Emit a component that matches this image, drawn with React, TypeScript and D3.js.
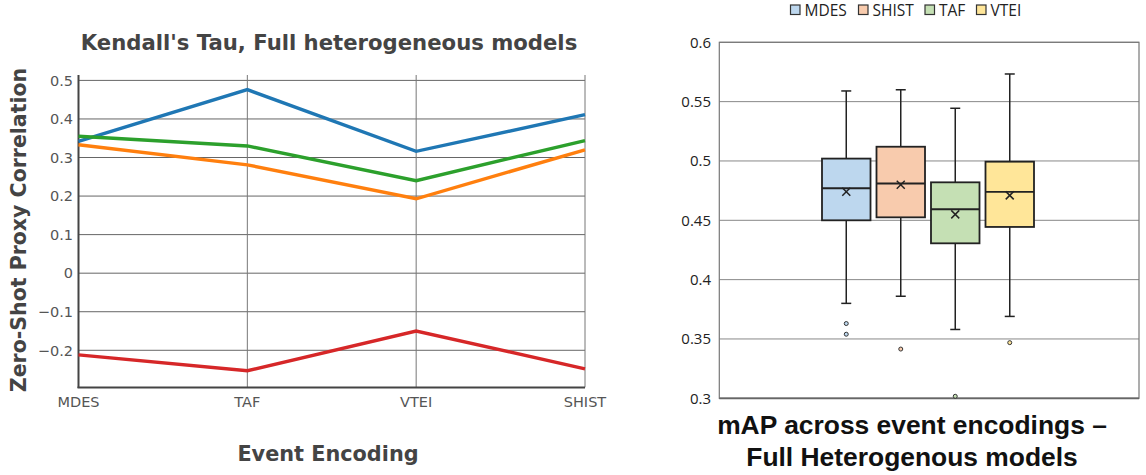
import React from 'react';
import * as d3 from 'd3';

// Left chart: Kendall's Tau per event encoding
const encodings = ['MDES', 'TAF', 'VTEI', 'SHIST'];
const blueSeries = [0.342, 0.476, 0.316, 0.411];
const orangeSeries = [0.333, 0.281, 0.193, 0.320];
const greenSeries = [0.355, 0.330, 0.240, 0.344];
const redSeries = [-0.212, -0.253, -0.150, -0.248];
const tauTicks = [0.5, 0.4, 0.3, 0.2, 0.1, 0, -0.1, -0.2];

// Right chart: mAP box plots
const boxNames = ['MDES', 'SHIST', 'TAF', 'VTEI'];
const boxFills = ['#bdd7ee', '#f8cbad', '#c5e0b4', '#ffe699'];
const whiskerLow = [0.380, 0.386, 0.358, 0.369];
const q1 = [0.450, 0.4525, 0.4306, 0.4444];
const medians = [0.477, 0.481, 0.4593, 0.4739];
const q3 = [0.502, 0.512, 0.482, 0.4994];
const whiskerHigh = [0.559, 0.560, 0.5444, 0.5733];
const means = [0.474, 0.480, 0.455, 0.471];
const outliers = [[0.363, 0.354], [0.3415], [0.3017], [0.3469]];
const mapTicks = [0.6, 0.55, 0.5, 0.45, 0.4, 0.35, 0.3];

const dejavu = '"DejaVu Sans", Verdana, sans-serif';

const TauChart = () => {
  const x = d3.scalePoint().domain(encodings).range([78.5, 585]);
  const y = d3.scaleLinear().domain([-0.296, 0.514]).range([387.3, 75]);
  const line = d3.line<number>()
    .x((_, i) => x(encodings[i]) as number)
    .y((d) => y(d));
  const series = [
    { vals: blueSeries, color: '#1f77b4' },
    { vals: greenSeries, color: '#2ca02c' },
    { vals: orangeSeries, color: '#ff7f0e' },
    { vals: redSeries, color: '#d62728' },
  ];
  return (
    <g>
      <text x={329} y={50} textAnchor="middle" fontFamily={dejavu} fontWeight="bold" fontSize={21.2} fill="#444">
        Kendall's Tau, Full heterogeneous models
      </text>
      {tauTicks.map((t) => (
        <g key={t}>
          <line x1={78.5} x2={585} y1={y(t)} y2={y(t)} stroke="#666" strokeWidth={1} />
          <text x={73} y={y(t)} dy="0.36em" textAnchor="end" fontFamily={dejavu} fontSize={14.5} fill="#555">
            {t === 0 ? '0' : d3.format('.1f')(t).replace('-', '\u2212')}
          </text>
        </g>
      ))}
      {encodings.map((c) => (
        <g key={c}>
          <line x1={x(c)} x2={x(c)} y1={75} y2={387.3} stroke="#777" strokeWidth={1} />
          <text x={x(c)} y={407} textAnchor="middle" fontFamily={dejavu} fontSize={14.5} fill="#555">{c}</text>
        </g>
      ))}
      <line x1={78.5} x2={78.5} y1={75} y2={388} stroke="#444" strokeWidth={2} />
      <line x1={77.5} x2={585} y1={387.5} y2={387.5} stroke="#444" strokeWidth={2} />
      {series.map((s, i) => (
        <path key={i} d={line(s.vals) as string} fill="none" stroke={s.color} strokeWidth={3.4} />
      ))}
      <text x={328} y={461} textAnchor="middle" fontFamily={dejavu} fontWeight="bold" fontSize={20.8} fill="#444">
        Event Encoding
      </text>
      <text transform="translate(25.5,230) rotate(-90)" textAnchor="middle" fontFamily={dejavu} fontWeight="bold" fontSize={20.5} fill="#444">
        Zero-Shot Proxy Correlation
      </text>
    </g>
  );
};

const BoxChart = () => {
  const left = 719.3, right = 1139, top = 42.3, bottom = 398.3;
  const y = d3.scaleLinear().domain([0.3, 0.6]).range([bottom, top]);
  const xb = d3.scaleBand().domain(boxNames).range([822, 1034]).paddingInner(0.11);
  const bw = xb.bandwidth();
  const capW = 10;
  const legendX = [790.5, 858.5, 925, 976.5];
  return (
    <g>
      {boxNames.map((n, i) => (
        <g key={n}>
          <rect x={legendX[i]} y={5} width={9.5} height={9.5} fill={boxFills[i]} stroke="#333" strokeWidth={1.2} />
          <text x={legendX[i] + 14} y={10} dy="0.36em" fontFamily='"Open Sans", sans-serif' fontSize={15.5} fill="#222">{n}</text>
        </g>
      ))}
      {mapTicks.map((t) => (
        <g key={t}>
          <line x1={left} x2={right} y1={y(t)} y2={y(t)} stroke="#888" strokeWidth={1} />
          <text x={711} y={y(t)} dy="0.35em" textAnchor="end" fontFamily='"Open Sans", sans-serif' fontSize={15} fill="#222">
            {String(t)}
          </text>
        </g>
      ))}
      <rect x={left} y={top} width={right - left} height={bottom - top} fill="none" stroke="#777" strokeWidth={1.2} />
      <line x1={left} x2={right} y1={bottom} y2={bottom} stroke="#666" strokeWidth={1.8} />
      {boxNames.map((n, i) => {
        const x0 = xb(n) as number;
        const cx = x0 + bw / 2;
        const m = 4;
        return (
          <g key={n} stroke="#222" strokeWidth={1.5}>
            <line x1={cx} x2={cx} y1={y(whiskerHigh[i])} y2={y(q3[i])} />
            <line x1={cx} x2={cx} y1={y(q1[i])} y2={y(whiskerLow[i])} />
            <line x1={cx - capW / 2} x2={cx + capW / 2} y1={y(whiskerHigh[i])} y2={y(whiskerHigh[i])} />
            <line x1={cx - capW / 2} x2={cx + capW / 2} y1={y(whiskerLow[i])} y2={y(whiskerLow[i])} />
            <rect x={x0} y={y(q3[i])} width={bw} height={y(q1[i]) - y(q3[i])} fill={boxFills[i]} strokeWidth={1.8} />
            <line x1={x0} x2={x0 + bw} y1={y(medians[i])} y2={y(medians[i])} strokeWidth={1.8} />
            <line x1={cx - m} x2={cx + m} y1={y(means[i]) - m} y2={y(means[i]) + m} />
            <line x1={cx - m} x2={cx + m} y1={y(means[i]) + m} y2={y(means[i]) - m} />
            {outliers[i].map((o, k) => (
              <circle key={k} cx={cx} cy={y(o)} r={2} fill={boxFills[i]} stroke="#333" strokeWidth={1} />
            ))}
          </g>
        );
      })}
      <text x={912} y={434} textAnchor="middle" fontFamily='"Liberation Sans", Arial, sans-serif' fontWeight="bold" fontSize={26.4} fill="#111">
        mAP across event encodings –
      </text>
      <text x={912} y={466} textAnchor="middle" fontFamily='"Liberation Sans", Arial, sans-serif' fontWeight="bold" fontSize={26.4} fill="#111">
        Full Heterogenous models
      </text>
    </g>
  );
};

export default function App() {
  return (
    <svg width={1146} height={475} style={{ position: 'absolute', left: 0, top: 0, background: '#fff' }}>
      <rect width={1146} height={475} fill="#fff" />
      <TauChart />
      <BoxChart />
    </svg>
  );
}
